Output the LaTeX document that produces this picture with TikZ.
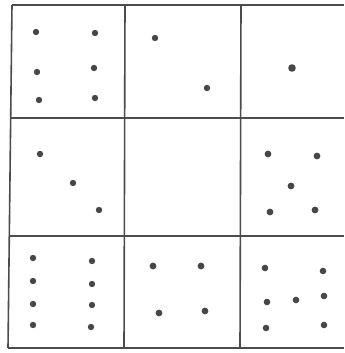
\documentclass[tikz,border=0pt]{standalone}
\begin{document}
\begin{tikzpicture}[x=0.75pt,y=-0.75pt,
  gridline/.style={draw=black!70,line width=1.2pt},
  dot/.style={fill=black!72}]
\useasboundingbox (0,0) rectangle (344,353);
\fill[white] (0,0) rectangle (344,353);
% grid
\draw[gridline] (12,5) -- (344,5);
\draw[gridline] (11,118) -- (344,118);
\draw[gridline] (10,236) -- (344,236);
\draw[gridline] (8,348) -- (344,348);
\draw[gridline] (12,5) -- (8,348);
\draw[gridline] (125,5) -- (124,348);
\draw[gridline] (241,5) -- (240,348);
% cell 1,1
\foreach \p in {(36,32),(95,33),(37,72),(94,68),(39,100),(95,98)}
  \fill[dot] \p circle (3.2);
% cell 1,2
\foreach \p in {(155,38),(207,88)}
  \fill[dot] \p circle (3.2);
% cell 1,3
\fill[dot] (292,68) circle (3.8);
% cell 2,1
\foreach \p in {(40,154),(73,183),(99,210)}
  \fill[dot] \p circle (3.2);
% cell 2,3
\foreach \p in {(268,154),(317,156),(291,186),(270,212),(315,210)}
  \fill[dot] \p circle (3.4);
% cell 3,1
\foreach \p in {(33,258),(33,281),(33,304),(33,325),(92,261),(92,284),(92,305),(91,327)}
  \fill[dot] \p circle (3.2);
% cell 3,2
\foreach \p in {(153,266),(159,313),(201,266),(205,311)}
  \fill[dot] \p circle (3.4);
% cell 3,3
\foreach \p in {(265,268),(323,271),(267,302),(296,300),(324,296),(266,328),(324,325)}
  \fill[dot] \p circle (3.3);
\end{tikzpicture}
\end{document}
